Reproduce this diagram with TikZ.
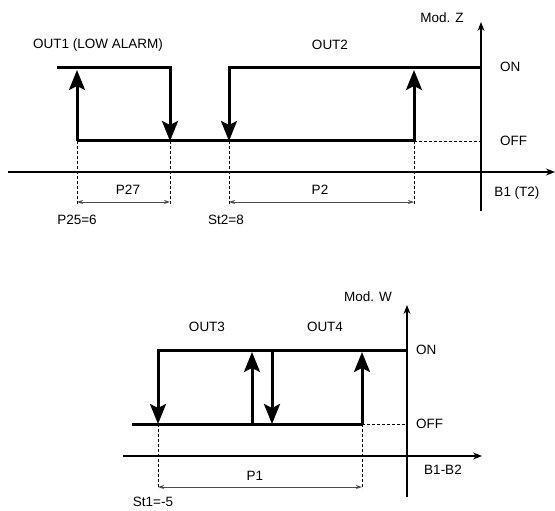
\documentclass[tikz,border=0pt]{standalone}
\usepackage{fontspec}
\setmainfont{Liberation Sans}
\usetikzlibrary{arrows.meta}
\begin{document}
\begin{tikzpicture}[x=1pt,y=-1pt,
 sig/.style={line width=3pt},
 sigarrow/.style={line width=3pt,-{Stealth[length=20pt,width=16pt,inset=4pt]}},
 axis/.style={line width=1.2pt,-{Stealth[length=9pt,width=7pt]}},
 dashline/.style={line width=0.9pt,dash pattern=on 3pt off 2pt},
 dim/.style={line width=0.8pt,draw=black!70,{Stealth[length=6pt,width=4pt]}-{Stealth[length=6pt,width=4pt]}},
 lbl/.style={font=\fontsize{13.5}{15}\selectfont, inner sep=0pt}]
\useasboundingbox (0,0) rectangle (555,511);
% ---------- top diagram ----------
\draw[axis] (8,172) -- (555,172);
\draw[axis] (481,211) -- (481,22);
\draw[sigarrow] (57,68) -- (170,68) -- (170,141);
\draw[sig] (77,141) -- (414,141);
\draw[sigarrow] (77,141) -- (77,70);
\draw[sigarrow] (481,68) -- (229,68) -- (229,141);
\draw[sigarrow] (414,141) -- (414,70);
\foreach \x in {77,170,229,414} \draw[dashline] (\x,141) -- (\x,204);
\draw[dashline] (414,141) -- (481,141);
\draw[dim] (77,202) -- (170,202);
\draw[dim] (229,202) -- (414,202);
\node[lbl] (o1) at (98,45) {OUT1 (LOW ALARM)};
\node[lbl] (o2) at (330,45) {OUT2};
\node[lbl] (mz) at (442,18) {Mod. Z};
\node[lbl,anchor=west] (on1) at (500,67) {ON};
\node[lbl,anchor=west] (off1) at (500,141) {OFF};
\node[lbl] (b1) at (517,193) {B1 (T2)};
\node[lbl] (p27) at (128,190) {P27};
\node[lbl] (p2) at (320,190) {P2};
\node[lbl] (p25) at (77,220) {P25=6};
\node[lbl] (st2) at (226,220) {St2=8};
% ---------- bottom diagram ----------
\draw[axis] (123,456) -- (482,456);
\draw[axis] (407,497) -- (407,305);
\draw[sigarrow] (407,350) -- (158,350) -- (158,424);
\draw[sig] (132,424) -- (362,424);
\draw[sigarrow] (252,424) -- (252,352);
\draw[sigarrow] (272,350) -- (272,424);
\draw[sigarrow] (362,424) -- (362,352);
\foreach \x in {158,362} \draw[dashline] (\x,424) -- (\x,489);
\draw[dashline] (362,424) -- (407,424);
\draw[dim] (158,487) -- (362,487);
\node[lbl] (o3) at (207,327) {OUT3};
\node[lbl] (o4) at (325,327) {OUT4};
\node[lbl] (mw) at (368,297) {Mod. W};
\node[lbl,anchor=west] (on2) at (416,350) {ON};
\node[lbl,anchor=west] (off2) at (416,424) {OFF};
\node[lbl] (b12) at (443,470) {B1-B2};
\node[lbl] (p1) at (255,476) {P1};
\node[lbl] (st1) at (153,502) {St1=-5};
\end{tikzpicture}
\end{document}
